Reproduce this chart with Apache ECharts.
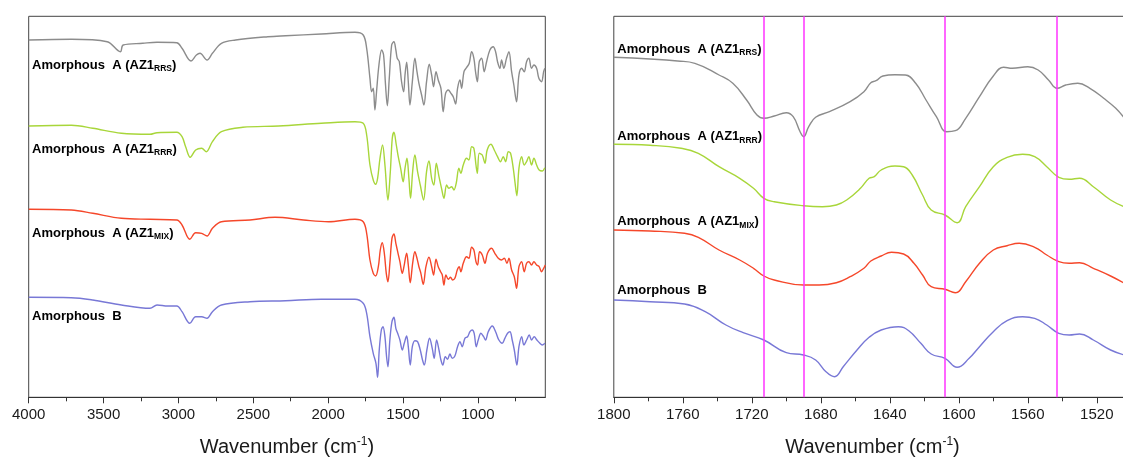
<!DOCTYPE html>
<html><head><meta charset="utf-8">
<script src="https://cdn.jsdelivr.net/npm/echarts@6/dist/echarts.min.js"></script>
<style>html,body{margin:0;padding:0;background:#fff}#c{width:1123px;height:459px}</style>
</head><body><div id="c"></div><script>
// ---------- tick values ----------
const leftMajorTicks = [4000, 3500, 3000, 2500, 2000, 1500, 1000];
const leftMinorTicks = [3750, 3250, 2750, 2250, 1750, 1250, 750];
const rightMajorTicks = [1800, 1760, 1720, 1680, 1640, 1600, 1560, 1520];
const rightMinorTicks = [1780, 1740, 1700, 1660, 1620, 1580, 1540, 1500];
const markerWavenumbers = [1713, 1690, 1608, 1543];

// ---------- series names ----------
const seriesNames = ['Amorphous A (AZ1RRS)', 'Amorphous A (AZ1RRR)', 'Amorphous A (AZ1MIX)', 'Amorphous B'];
const subscripts = ['RRS', 'RRR', 'MIX', ''];

// ---------- full-range spectra [wavenumber, offset transmittance] ----------
const fullRRS = [[4000,357.3],[3715,358],[3476,355.6],[3388,345.6],[3369,352.3],[3238,354],[3143,355],[3011,354.6],[2976,349],[2916,336.3],[2880,342.3],[2856,344],[2809,337.3],[2773,344],[2713,354],[2618,357.3],[2403,360.6],[2284,361.6],[2046,363.3],[1821,365],[1766,362.3],[1743,349],[1721,319],[1710,305.6],[1699,309],[1688,287.3],[1677,305.6],[1661,332.3],[1643,347.3],[1630,342.3],[1617,312.3],[1605,291.6],[1592,319],[1576,352.3],[1561,355.6],[1548,347.3],[1539,339],[1525,335.6],[1510,315.6],[1496,305.6],[1487,322.3],[1476,335],[1465,315.6],[1454,292.3],[1438,315.6],[1421,339],[1407,325.6],[1394,314],[1376,302.3],[1361,292.3],[1343,315.6],[1325,333],[1309,322.3],[1296,310.6],[1280,325.6],[1265,317.3],[1247,309],[1232,285.6],[1216,304],[1198,307.3],[1180,304],[1165,300.6],[1149,293.3],[1136,309],[1120,317.3],[1109,309],[1093,325.6],[1076,329.6],[1058,334],[1042,345.6],[1027,339],[1016,325.6],[1004,315.6],[991,335.6],[975,339],[958,325.6],[942,335.6],[920,347.3],[898,350.6],[882,345.6],[869,335.6],[853,329],[842,337.3],[827,329],[809,339],[793,345.6],[775,325.6],[760,312.3],[742,295.6],[726,322.3],[708,329],[691,325.6],[675,335.6],[660,339],[642,329],[626,332.3],[608,329],[593,319],[575,315.6],[561,325.6],[553,329]];
const fullRRR = [[4000,271.3],[3715,272],[3572,269],[3381,264],[3190,263],[3143,264.6],[3011,265],[2976,260.6],[2952,250.6],[2921,240],[2885,247.3],[2845,249],[2814,245.6],[2773,255.6],[2713,265.6],[2570,270],[2331,271.3],[2046,274],[1821,275.6],[1766,274],[1743,262.3],[1721,232.3],[1699,217.3],[1683,213],[1670,219],[1654,239],[1637,252.3],[1621,232.3],[1601,197.3],[1585,225.6],[1572,259],[1561,265],[1545,252.3],[1532,240.6],[1516,229],[1499,215.6],[1487,229],[1474,239],[1461,219],[1450,199],[1436,225.6],[1421,242.3],[1403,225.6],[1385,212.3],[1363,197.3],[1343,225.6],[1327,236.3],[1309,219],[1294,212.3],[1278,234],[1260,220.6],[1243,209],[1227,199],[1209,212.3],[1194,209],[1176,210.6],[1160,207.3],[1145,214],[1127,229],[1114,224],[1098,232.3],[1076,239],[1060,237.3],[1042,250.6],[1027,249],[1013,232.3],[1004,224],[991,244],[971,242.3],[953,234],[938,247.3],[913,253],[891,247.3],[869,240.6],[849,235.6],[831,240.6],[815,235.6],[797,245.6],[782,244],[764,229],[753,215.6],[740,201.6],[726,229],[708,240.6],[691,232.3],[675,235.6],[660,240.6],[642,232.3],[626,239],[608,232.3],[591,227.3],[571,226.3],[553,229.6]];
const fullMIX = [[4000,188],[3715,187.3],[3572,184],[3381,179],[3190,178],[3011,177.3],[2976,172.3],[2924,158],[2885,164.6],[2845,164],[2809,161.3],[2773,169],[2713,175.6],[2522,177.3],[2355,180],[2164,177.3],[1998,175.6],[1821,178],[1766,175.6],[1743,164],[1721,137.3],[1699,124],[1683,121.3],[1665,130.6],[1652,147.3],[1639,154.6],[1625,144],[1612,124],[1601,115.6],[1588,134],[1574,159],[1561,163.3],[1548,154],[1536,145.6],[1521,135.6],[1505,124],[1494,130.6],[1476,144],[1465,132.3],[1452,114.6],[1436,134],[1421,145.6],[1407,139],[1394,130.6],[1381,124],[1365,113],[1347,130.6],[1327,140],[1309,130.6],[1296,122.3],[1280,138],[1265,130.6],[1249,125.6],[1238,122.3],[1227,112.3],[1214,122.3],[1198,118],[1183,120],[1169,117.3],[1154,119],[1138,127.3],[1125,130.6],[1114,125.6],[1098,134],[1076,140.6],[1060,139],[1042,150],[1027,147.3],[1013,135.6],[1002,132.3],[989,145.6],[971,142.3],[953,134],[936,144],[909,149],[887,144],[864,139],[842,137.3],[824,139],[806,134],[793,139],[775,127.3],[757,120.6],[742,109],[726,130.6],[708,135.6],[691,125.6],[675,134],[660,135.6],[642,132.3],[626,135.6],[608,132.3],[591,130.6],[575,125.6],[561,129],[550,132.3]];
const fullB = [[4000,100],[3715,99.6],[3572,97.3],[3381,92.3],[3190,89],[3143,92.3],[3071,91.3],[3011,91.3],[2976,85.6],[2924,74],[2885,80.6],[2845,80.6],[2809,79],[2773,85.6],[2713,92.3],[2522,95.6],[2284,96.6],[2046,98],[1821,98],[1766,94],[1743,84],[1721,60.6],[1699,44],[1681,34],[1670,20],[1659,47.3],[1645,67.3],[1634,70.6],[1621,60.6],[1610,40.6],[1601,30.6],[1588,57.3],[1574,75.6],[1561,80],[1548,69],[1536,64],[1521,57.3],[1505,47.3],[1492,54],[1476,61.3],[1465,50.6],[1452,32.3],[1438,50.6],[1421,56.6],[1403,55.6],[1385,47.3],[1370,37.3],[1358,32.3],[1341,47.3],[1323,59],[1305,49],[1292,39],[1276,57.3],[1260,47.3],[1247,37.3],[1234,32.3],[1218,40.6],[1203,38],[1187,43.3],[1171,39],[1154,41.3],[1136,50.6],[1120,55.6],[1105,50.6],[1087,59],[1069,60.6],[1053,65.6],[1038,67.3],[1025,64],[1011,50.6],[998,57.3],[980,64],[962,60.6],[949,57.3],[931,65.6],[904,71.3],[882,65.6],[860,57.3],[838,54],[820,59],[802,64],[786,65.6],[771,57.3],[757,47.3],[740,32.3],[726,50.6],[708,60.6],[693,52.3],[675,57.3],[657,62.3],[642,57.3],[624,60.6],[606,57.3],[586,54],[571,52.3],[553,54]];

// ---------- 1800-1500 cm-1 region ----------
const zoomRRS = [[1800,340],[1779,338.3],[1763,336.3],[1753,334],[1739,322.3],[1731,314],[1723,297.3],[1717,282.3],[1713,279],[1707,281.3],[1700,284.6],[1696,280.6],[1692,265.6],[1690,260.6],[1687,270.6],[1683,280],[1675,285.6],[1663,295.6],[1655,305.6],[1651,314.6],[1648,316.6],[1644,321.3],[1637,322.6],[1631,322.3],[1625,314],[1619,297.3],[1613,280.6],[1607,265.6],[1602,266.6],[1596,279],[1588,300.6],[1580,321.3],[1574,330],[1569,329],[1560,330.6],[1554,327.3],[1548,317.3],[1543,309],[1538,312.3],[1531,314],[1524,309],[1516,299],[1509,289],[1504,279]];
const zoomRRR = [[1800,253],[1779,252],[1761,249],[1751,244],[1739,230.6],[1727,219],[1719,209],[1713,199],[1707,195.6],[1690,191.6],[1679,190.6],[1671,192.3],[1665,197.3],[1657,209],[1652,219],[1649,220.6],[1645,227.3],[1637,231.3],[1632,230.6],[1627,222.3],[1621,202.3],[1616,187.3],[1608,182.3],[1601,174.6],[1596,190.6],[1588,210.6],[1580,230.6],[1572,240],[1563,243],[1556,240.6],[1549,230.6],[1542,220],[1536,218],[1530,219],[1522,210.6],[1512,197.3],[1504,190.6]];
const zoomMIX = [[1800,167.3],[1779,166.3],[1759,164],[1751,160],[1739,147.3],[1727,137.3],[1719,129],[1713,121.3],[1707,117.3],[1690,112.3],[1681,112.3],[1671,114.6],[1663,120.6],[1655,129],[1651,136.3],[1645,141.3],[1639,145],[1632,143.3],[1626,134],[1621,122.3],[1616,110.6],[1608,108],[1602,104.6],[1596,115.6],[1588,134],[1580,147.3],[1572,151.6],[1565,154],[1556,150],[1549,142.3],[1542,135.6],[1536,134],[1530,134.6],[1522,129],[1512,121.3],[1504,114]];
const zoomB = [[1800,97.3],[1779,95.6],[1759,93.3],[1747,85.6],[1735,72.3],[1725,64.6],[1713,57.3],[1700,44.6],[1690,42.3],[1683,37.3],[1677,25.6],[1672,20.6],[1667,30.6],[1659,47.3],[1652,60],[1645,67.3],[1635,70.6],[1629,66.6],[1622,54],[1616,43.3],[1608,39],[1601,30],[1594,39],[1588,50.6],[1580,65.6],[1572,76.6],[1563,80.6],[1556,79],[1549,72.3],[1542,64],[1536,62.3],[1530,63.3],[1522,57.3],[1512,47.3],[1504,42.3]];

const fullData = [fullRRS, fullRRR, fullMIX, fullB];
const zoomData = [zoomRRS, zoomRRR, zoomMIX, zoomB];

// ---------- styling / layout (not data) ----------
const colors = ['#8c8c8c', '#a8d63a', '#f5472a', '#7878d6'];
const FONT = '"Liberation Sans", Arial, Helvetica, sans-serif';
const leftLabelAnchors = [[3978, 332], [3978, 248], [3978, 164], [3978, 80.6]];
const rightLabelAnchors = [[1798, 348], [1798, 260.5], [1798, 175.5], [1798, 106.5]];

const rich = {
  m: {fontSize: 13, fontWeight: 'bold', color: '#000', fontFamily: FONT, lineHeight: 16},
  s: {fontSize: 8.5, fontWeight: 'bold', color: '#000', fontFamily: FONT, lineHeight: 9, verticalAlign: 'bottom'}
};
function labelText(i) {
  const n = seriesNames[i];
  const sub = subscripts[i];
  if (!sub) return '{m|Amorphous  B}';
  const base = n.slice(0, n.length - sub.length - 1).replace('Amorphous A', 'Amorphous  A');
  return '{m|' + base + '}{s|' + sub + '}{m|)}';
}

const axisNameRich = {
  a: {fontSize: 20, color: '#1a1a1a', fontFamily: FONT, lineHeight: 24},
  sup: {fontSize: 12, color: '#1a1a1a', fontFamily: FONT, lineHeight: 12, verticalAlign: 'top'}
};

function mainAxis(grid, min, max, majors) {
  return {
    type: 'value', gridIndex: grid, inverse: true, min: min, max: max, position: 'bottom',
    name: '{a|Wavenumber (cm}{sup|-1}{a|)}', nameLocation: 'middle', nameGap: 38,
    nameTextStyle: {rich: axisNameRich},
    axisLine: {show: true, onZero: false, lineStyle: {color: '#333', width: 1}},
    axisTick: {show: true, customValues: majors, length: 6, lineStyle: {color: '#333', width: 1}},
    axisLabel: {show: true, customValues: majors, fontSize: 15, color: '#1a1a1a', fontFamily: FONT, margin: 10,
      formatter: v => String(v)},
    splitLine: {show: false}
  };
}
function minorAxis(grid, min, max, minors) {
  return {
    type: 'value', gridIndex: grid, inverse: true, min: min, max: max, position: 'bottom',
    axisLine: {show: false},
    axisTick: {show: true, customValues: minors, length: 4, lineStyle: {color: '#333', width: 1}},
    axisLabel: {show: false},
    splitLine: {show: false}
  };
}

const series = [];
fullData.forEach((d, i) => {
  series.push({
    type: 'line', xAxisIndex: 0, yAxisIndex: 0, data: d, showSymbol: false, smooth: 0.35,
    lineStyle: {color: colors[i], width: 1.4}, itemStyle: {color: colors[i]}, silent: true,
    markPoint: {
      silent: true, symbol: 'circle', symbolSize: 0, animation: false,
      label: {show: true, position: 'right', distance: 0, formatter: labelText(i), rich: rich},
      data: [{coord: leftLabelAnchors[i]}]
    }
  });
});
zoomData.forEach((d, i) => {
  const s = {
    type: 'line', xAxisIndex: 2, yAxisIndex: 1, data: d, showSymbol: false, smooth: 0.45,
    lineStyle: {color: colors[i], width: 1.4}, itemStyle: {color: colors[i]}, silent: true,
    markPoint: {
      silent: true, symbol: 'circle', symbolSize: 0, animation: false,
      label: {show: true, position: 'right', distance: 0, formatter: labelText(i), rich: rich},
      data: [{coord: rightLabelAnchors[i]}]
    }
  };
  if (i === 0) {
    s.markLine = {
      silent: true, symbol: ['none', 'none'], animation: false,
      label: {show: false},
      lineStyle: {color: '#ff33ff', width: 1.5, type: 'solid'},
      emphasis: {disabled: true},
      data: markerWavenumbers.map(v => ({xAxis: v}))
    };
  }
  series.push(s);
});

const chart = echarts.init(document.getElementById('c'), null, {renderer: 'canvas'});
chart.setOption({
  animation: false,
  backgroundColor: '#ffffff',
  grid: [
    {left: 28.7, top: 16.3, width: 516.6, height: 381, show: true, borderColor: '#444', borderWidth: 1, backgroundColor: 'transparent', outerBoundsMode: 'none', containLabel: false},
    {left: 613.8, top: 16.3, width: 517.5, height: 381, show: true, borderColor: '#444', borderWidth: 1, backgroundColor: 'transparent', outerBoundsMode: 'none', containLabel: false}
  ],
  xAxis: [
    mainAxis(0, 550, 4000, leftMajorTicks),
    minorAxis(0, 550, 4000, leftMinorTicks),
    mainAxis(1, 1500, 1800, rightMajorTicks),
    minorAxis(1, 1500, 1800, rightMinorTicks)
  ],
  yAxis: [
    {type: 'value', gridIndex: 0, min: 0, max: 381, show: false, splitLine: {show: false}},
    {type: 'value', gridIndex: 1, min: 0, max: 381, show: false, splitLine: {show: false}}
  ],
  series: series
});
</script></body></html>
